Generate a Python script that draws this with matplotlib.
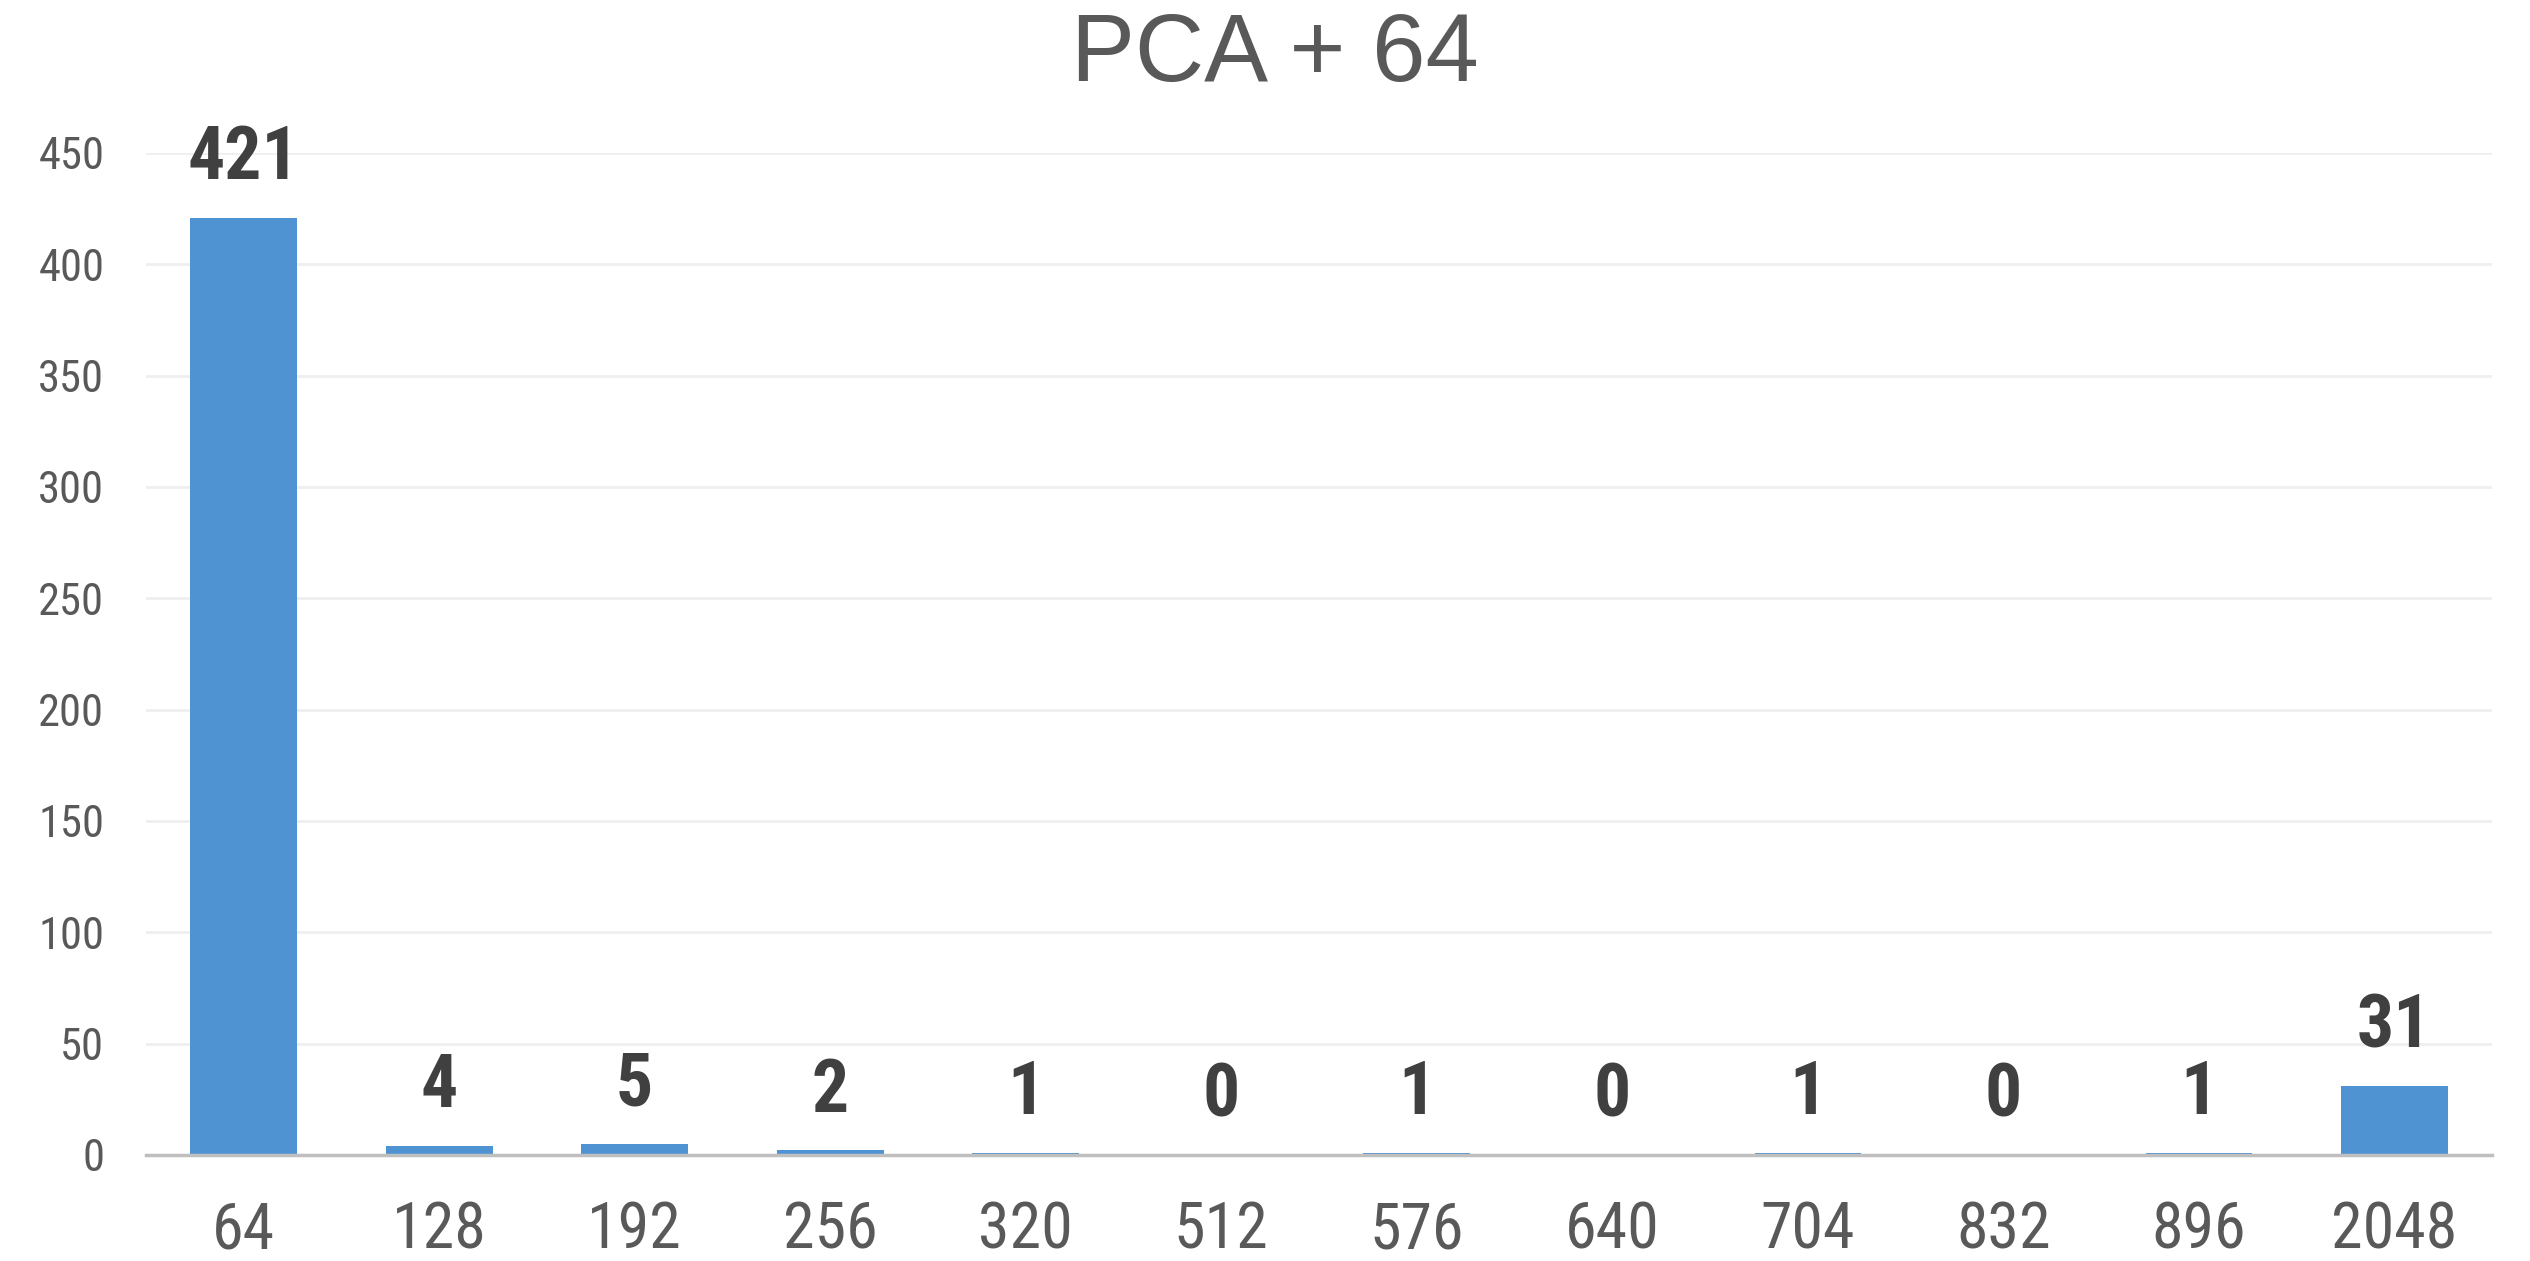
import matplotlib
matplotlib.use("Agg")
import matplotlib.pyplot as plt

# 各维度的计数
categories = ["64", "128", "192", "256", "320", "512", "576", "640", "704", "832", "896", "2048"]
counts = [421, 4, 5, 2, 1, 0, 1, 0, 1, 0, 1, 31]
y_ticks = [0, 50, 100, 150, 200, 250, 300, 350, 400, 450]
title = "PCA + 64"

narrow = ["Roboto Condensed", "Archivo Narrow", "Liberation Sans", "DejaVu Sans"]
plt.rcParams["font.family"] = narrow

fig = plt.figure(figsize=(25.3, 12.61), dpi=100)
ax = fig.add_axes([0.0577, 0.0841, 0.9273, 0.7946])

x = range(len(categories))
bars = ax.bar(x, counts, width=0.545, color="#4F93D2", zorder=2)

# 柱顶数值
for rect, v in zip(bars, counts):
    ax.annotate(str(v), (rect.get_x() + rect.get_width() / 2, v),
                xytext=(0, 17), textcoords="offset points",
                ha="center", va="bottom", fontsize=53, fontweight="bold",
                color="#404040", annotation_clip=False)

ax.set_xlim(-0.5, len(categories) - 0.5)
ax.set_ylim(0, 450)
ax.set_xticks(list(x))
ax.set_xticklabels(categories)
ax.set_yticks(y_ticks)
ax.tick_params(axis="x", length=0, pad=32, labelsize=46, labelcolor="#595959")
ax.tick_params(axis="y", length=0, pad=30, labelsize=32, labelcolor="#595959")

ax.yaxis.grid(True, color="#EFEFEF", linewidth=2, zorder=0)
ax.set_axisbelow(True)
for side in ["top", "right", "left"]:
    ax.spines[side].set_visible(False)
ax.spines["bottom"].set_color("#BFBFBF")
ax.spines["bottom"].set_linewidth(2.5)
ax.spines["bottom"].set_zorder(3)

fig.text(0.504, 0.9556, title, ha="center", va="center", fontsize=69,
         color="#595959", family=["Liberation Sans", "DejaVu Sans"])

fig.savefig("out.png", dpi=100, facecolor="white")
